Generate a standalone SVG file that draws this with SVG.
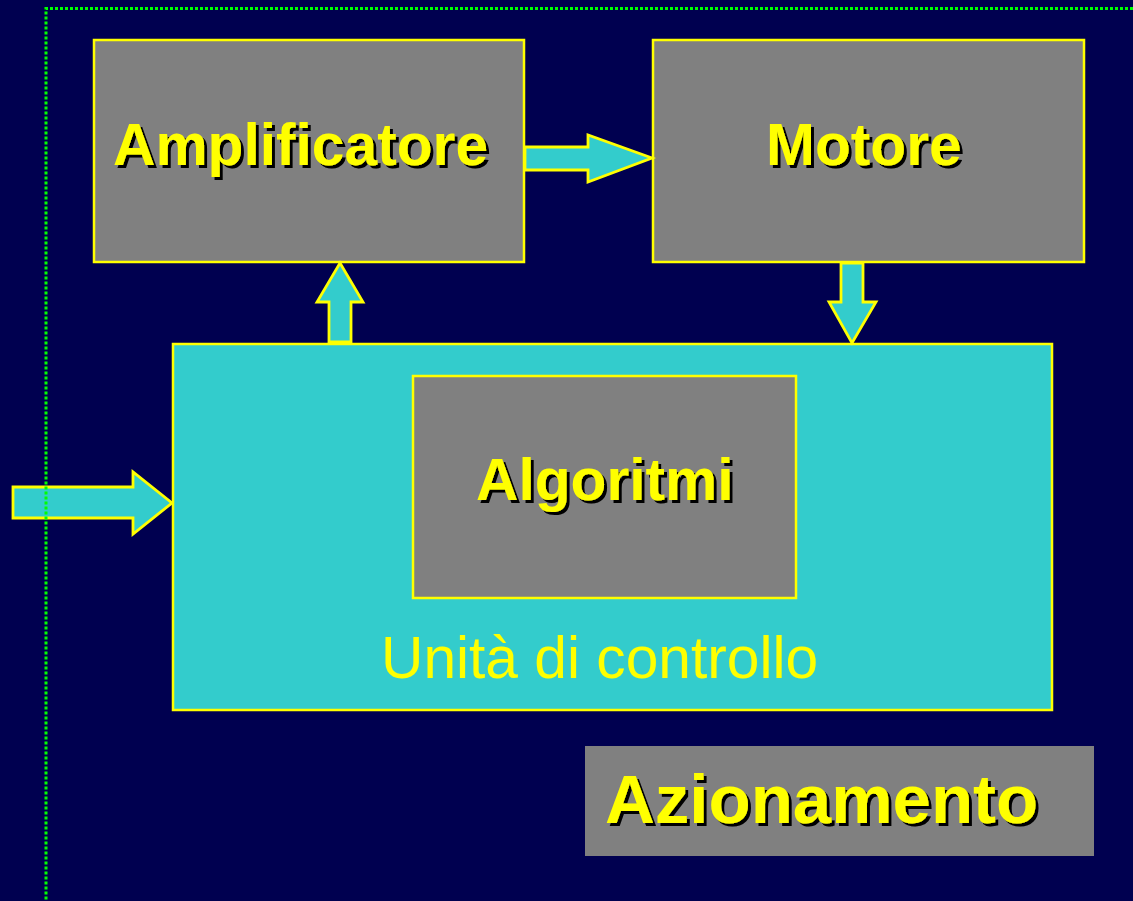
<svg xmlns="http://www.w3.org/2000/svg" width="1133" height="901" viewBox="0 0 1133 901">
  <defs>
    <filter id="shadow" x="-5%" y="-20%" width="115%" height="150%">
      <feFlood flood-color="#000000" result="c"/>
      <feComposite in="c" in2="SourceAlpha" operator="in" result="s"/>
      <feOffset in="s" dx="3" dy="3" result="o"/>
      <feMerge>
        <feMergeNode in="o"/>
        <feMergeNode in="SourceGraphic"/>
      </feMerge>
    </filter>
  </defs>
  <style>
    .box { fill: #808080; stroke: #FFFF00; stroke-width: 2.5; }
    .unit { fill: #33CCCC; stroke: #FFFF00; stroke-width: 2.5; }
    .arrow { fill: #33CCCC; stroke: #FFFF00; stroke-width: 2.8; stroke-linejoin: miter; }
    .t { font-family: "Liberation Sans", Arial, sans-serif; font-weight: bold; font-size: 58.7px; fill: #FFFF00; filter: url(#shadow); }
    .border { fill: none; stroke: #00FF00; stroke-width: 3; stroke-dasharray: 3 2; }
  </style>
  <rect x="0" y="0" width="1133" height="901" fill="#000050"/>

  <g id="amplificatore">
    <rect class="box" x="94" y="40" width="430" height="222"/>
    <text class="t" x="113" y="165">Amplificatore</text>
  </g>

  <g id="motore">
    <rect class="box" x="653" y="40" width="431" height="222"/>
    <text class="t" x="766" y="165">Motore</text>
  </g>

  <g id="unita-di-controllo">
    <rect class="unit" x="173" y="344" width="879" height="366"/>
    <text x="381" y="678" font-family="'Liberation Sans', Arial, sans-serif" font-size="58.7px" fill="#FFFF00">Unità di controllo</text>
  </g>

  <g id="algoritmi">
    <rect class="box" x="413" y="376" width="383" height="222"/>
    <text class="t" x="476" y="500">Algoritmi</text>
  </g>

  <g id="azionamento">
    <rect x="585" y="746" width="509" height="110" fill="#808080"/>
    <text class="t" x="605" y="823" font-size="69px" style="font-size:69px">Azionamento</text>
  </g>

  <g id="connectors">
    <polygon class="arrow" points="525,147 588,147 588,135 652,158 588,182 588,170 525,170"/>
    <polygon class="arrow" points="340,263 363,302 351,302 351,342 329,342 329,302 317,302"/>
    <polygon class="arrow" points="841,263 863,263 863,302 876,302 852,343 829,302 841,302"/>
    <polygon class="arrow" points="13,487 133,487 133,472 172,503 133,534 133,518 13,518"/>
  </g>

  <polyline class="border" points="1133,8.5 46,8.5 46,901"/>
</svg>
